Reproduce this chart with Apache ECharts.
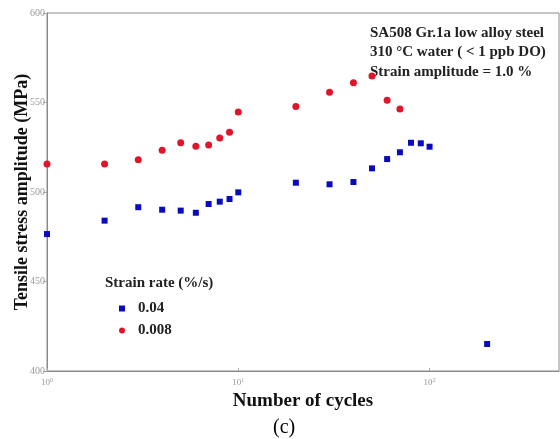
<!DOCTYPE html>
<html>
<head>
<meta charset="utf-8">
<script src="https://cdn.jsdelivr.net/npm/echarts@6/dist/echarts.min.js"></script>
<style>html,body{margin:0;padding:0;background:#fff}#c{width:560px;height:439px}</style>
</head>
<body>
<div id="c"></div>
<script>
const cyclesBlue = [1,2,3,4,5,6,7,8,9,10,20,30,40,50,60,70,80,90,100,200];
const stressBlue = [476.5,484,491.5,490.1,489.6,488.4,493.3,494.6,496.1,499.8,505.2,504.3,505.6,513.2,518.4,522.2,527.5,527.2,525.3,415.1];
const cyclesRed = [1,2,3,4,5,6,7,8,9,10,20,30,40,50,60,70];
const stressRed = [515.6,515.6,518,523.3,527.5,525.5,526.3,530.2,533.4,544.7,547.7,555.7,561,564.8,551.2,546.4];
const seriesNames = ['0.04','0.008'];
const yTicks = [400,450,500,550,600];
const noteLines = ['SA508 Gr.1a low alloy steel','310 \u00B0C water ( < 1 ppb DO)','Strain amplitude = 1.0 %'];

const serif = '"Liberation Serif","DejaVu Serif",serif';
const chart = echarts.init(document.getElementById('c'), null, {renderer:'canvas'});
const pair = (xs, ys) => xs.map((x,i)=>[x, ys[i]]);
chart.setOption({
  backgroundColor:'#fff',
  animation:false,
  grid:{left:47,right:1,top:13,bottom:68,show:true,borderColor:'#8a8a8a',borderWidth:1,containLabel:false,outerBoundsMode:'none'},
  xAxis:{
    type:'log', logBase:10, min:1, max:475,
    axisLine:{lineStyle:{color:'#8a8a8a'}},
    axisTick:{inside:true,length:3,lineStyle:{color:'#aaa'}},
    splitLine:{show:false},
    axisLabel:{showMaxLabel:false, margin:6,
      formatter:v=>{const e=Math.round(Math.log10(v)); return '{b|10}{s|'+e+'}';},
      rich:{b:{fontFamily:serif,fontSize:9,color:'#999'},s:{fontFamily:serif,fontSize:6,color:'#999',verticalAlign:'top',padding:[0,0,5,0]}}
    },
    name:'Number of cycles', nameLocation:'middle', nameGap:20,
    nameTextStyle:{fontFamily:serif,fontWeight:'bold',fontSize:19,color:'#111'}
  },
  yAxis:{
    type:'value', min:yTicks[0], max:yTicks[yTicks.length-1], interval:50,
    axisLine:{show:true,lineStyle:{color:'#8a8a8a'}},
    axisTick:{show:true,length:4,lineStyle:{color:'#aaa'}},
    splitLine:{show:false},
    axisLabel:{fontFamily:serif,fontSize:10,color:'#999',margin:2},
    name:'Tensile stress amplitude (MPa)', nameLocation:'middle', nameGap:16, nameMoveOverlap:false,
    nameTextStyle:{fontFamily:serif,fontWeight:'bold',fontSize:18,color:'#111'}
  },
  legend:{
    orient:'vertical', left:114, top:296, itemGap:7, itemWidth:6, itemHeight:6,
    data:[{name:seriesNames[0],icon:'rect'},{name:seriesNames[1],icon:'circle'}],
    textStyle:{fontFamily:serif,fontWeight:'bold',fontSize:15,color:'#222',padding:[0,0,0,8]}
  },
  graphic:[
    {type:'text',left:105,top:276,style:{text:'Strain rate (%/s)',font:'bold 15px '+serif,fill:'#222'}},
    {type:'text',left:370,top:23,style:{text:noteLines.join('\n'),font:'bold 15px '+serif,fill:'#222',lineHeight:19.5}},
    {type:'text',left:273,top:418,style:{text:'(c)',font:'20px '+serif,fill:'#000'}}
  ],
  series:[
    {name:seriesNames[0],type:'scatter',symbol:'rect',symbolSize:6,itemStyle:{color:'#0a0abe',opacity:1},data:pair(cyclesBlue,stressBlue)},
    {name:seriesNames[1],type:'scatter',symbol:'circle',symbolSize:7,itemStyle:{color:'#e0142a',opacity:1},data:pair(cyclesRed,stressRed)}
  ]
});
</script>
</body>
</html>
